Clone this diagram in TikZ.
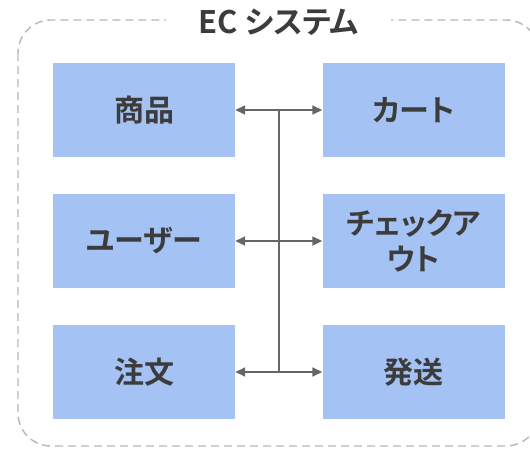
\documentclass[tikz,border=0pt]{standalone}
\usepackage{fontspec}
\setmainfont{Noto Sans CJK JP}[BoldFont={* Bold}]
\newfontfamily\jpb{Noto Sans CJK JP Bold}[RawFeature=+palt]
\usetikzlibrary{arrows.meta}
\definecolor{boxblue}{HTML}{A4C2F4}
\definecolor{txtgray}{HTML}{3C3C3C}
\definecolor{linegray}{HTML}{666666}
\definecolor{dashgray}{HTML}{B7B7B7}
\tikzset{
  compbox/.style={fill=boxblue, draw=none, minimum width=182pt, minimum height=94pt, inner sep=0pt,
    font=\jpb\fontsize{30}{36}\selectfont, text=txtgray, align=center},
  conn/.style={draw=linegray, line width=1.6pt, {Triangle[length=10pt,width=9pt]}-{Triangle[length=10pt,width=9pt]}},
  trunk/.style={draw=linegray, line width=1.6pt},
  frame/.style={draw=dashgray, line width=1.4pt, dash pattern=on 8pt off 5pt, rounded corners=33pt},
  titlestyle/.style={fill=white, inner xsep=32pt, inner ysep=2pt, font=\jpb\fontsize{31}{34}\selectfont, text=txtgray}
}
\begin{document}
\begin{tikzpicture}[x=1pt,y=-1pt]
\useasboundingbox (0,0) rectangle (530,448);
\draw[frame] (18,20) rectangle (539,446);
\node[titlestyle] (title) at (278.5,22) {EC システム};
\node[compbox] (shohin) at (144,110) {商品};
\node[compbox] (user) at (144,241) {ユーザー};
\node[compbox] (chumon) at (144,372) {注文};
\node[compbox] (cart) at (413.5,110) {カート};
\node[compbox] (checkout) at (413.5,241) {チェックア\\ウト};
\node[compbox] (hasso) at (413.5,372) {発送};
\path (shohin.east) -- (cart.west) coordinate[pos=0.5] (t1);
\path (chumon.east) -- (hasso.west) coordinate[pos=0.5] (t3);
\draw[trunk] (t1) -- (t3);
\draw[conn] (shohin.east) -- (cart.west);
\draw[conn] (user.east) -- (checkout.west);
\draw[conn] (chumon.east) -- (hasso.west);
\end{tikzpicture}
\end{document}
